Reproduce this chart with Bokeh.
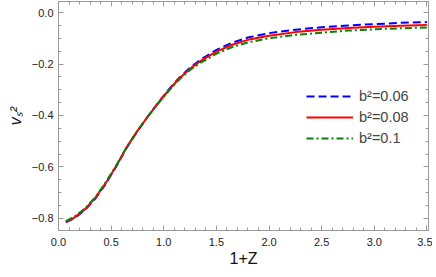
from bokeh.plotting import figure
from bokeh.models import Range1d, FixedTicker, LinearAxis, Legend, LegendItem
from bokeh.embed import file_html
from bokeh.resources import INLINE

# data
x = [0.07, 0.15, 0.25, 0.35, 0.45, 0.55, 0.65, 0.75, 0.85, 0.95, 1.05, 1.15,
     1.25, 1.35, 1.5, 1.65, 1.8, 2.0, 2.25, 2.5, 2.75, 3.0, 3.25, 3.5]
v_b006 = [-0.815, -0.800, -0.768, -0.723, -0.665, -0.597, -0.524, -0.461, -0.403,
          -0.349, -0.298, -0.252, -0.214, -0.183, -0.145, -0.117, -0.097, -0.080,
          -0.067, -0.057, -0.050, -0.045, -0.040, -0.037]
v_b008 = [-0.813, -0.797, -0.765, -0.720, -0.662, -0.595, -0.522, -0.460, -0.403,
          -0.350, -0.300, -0.255, -0.218, -0.188, -0.152, -0.125, -0.106, -0.090,
          -0.076, -0.067, -0.060, -0.055, -0.051, -0.048]
v_b01 = [-0.811, -0.794, -0.762, -0.717, -0.659, -0.593, -0.521, -0.460, -0.404,
         -0.352, -0.303, -0.259, -0.223, -0.195, -0.160, -0.134, -0.116, -0.100,
         -0.087, -0.078, -0.070, -0.065, -0.061, -0.058]
labels = ["b\u00b2=0.06", "b\u00b2=0.08", "b\u00b2=0.1"]
x_major = [0.0, 0.5, 1.0, 1.5, 2.0, 2.5, 3.0, 3.5]
x_tick_labels = ["0.0", "0.5", "1.0", "1.5", "2.0", "2.5", "3.0", "3.5"]
y_major = [-0.8, -0.6, -0.4, -0.2, 0.0]
y_tick_labels = ["\u22120.8", "\u22120.6", "\u22120.4", "\u22120.2", "0.0"]

x_minor = [round(i * 0.1, 2) for i in range(0, 36)]
y_minor = [round(-0.85 + i * 0.05, 2) for i in range(0, 19)]

FONT = "Liberation Sans"
GRAY = "#9a9a9a"

p = figure(width=432, height=276, x_range=Range1d(0, 3.515), y_range=Range1d(-0.847, 0.043),
           output_backend="svg", toolbar_location=None,
           min_border_left=58, min_border_right=4, min_border_top=1, min_border_bottom=46,
           x_axis_location=None, y_axis_location=None)
p.grid.visible = False
p.outline_line_color = GRAY
p.background_fill_color = "white"
p.border_fill_color = "white"

xt = FixedTicker(ticks=x_major, minor_ticks=x_minor)
yt = FixedTicker(ticks=y_major, minor_ticks=y_minor)


def style_axis(ax, show_labels):
    ax.axis_line_color = GRAY
    ax.major_tick_line_color = GRAY
    ax.minor_tick_line_color = GRAY
    ax.major_tick_in = 5
    ax.major_tick_out = 0
    ax.minor_tick_in = 3
    ax.minor_tick_out = 0
    ax.major_label_text_font = FONT
    ax.major_label_text_font_size = "11px"
    ax.major_label_text_color = "#222222"
    ax.axis_label_text_font = FONT
    ax.axis_label_text_font_size = "16px"
    ax.axis_label_text_color = "#111111"
    if not show_labels:
        ax.major_label_text_alpha = 0
        ax.major_label_text_font_size = "1px"


bottom = LinearAxis(ticker=xt, axis_label="1+Z")
style_axis(bottom, True)
bottom.major_label_overrides = {v: s for v, s in zip(x_major, x_tick_labels)}
bottom.major_label_standoff = 7
bottom.axis_label_standoff = 1
bottom.axis_label_text_font_style = "normal"
p.add_layout(bottom, "below")

left = LinearAxis(ticker=yt, axis_label="v\u209b\u00b2")
style_axis(left, True)
left.major_label_overrides = {v: s for v, s in zip(y_major, y_tick_labels)}
left.major_label_standoff = 5
left.axis_label_standoff = 5
left.axis_label_text_font_style = "italic"
p.add_layout(left, "left")

top = LinearAxis(ticker=xt)
style_axis(top, False)
p.add_layout(top, "above")

right = LinearAxis(ticker=yt)
style_axis(right, False)
p.add_layout(right, "right")

r1 = p.line(x, v_b006, line_color="#0000ff", line_width=2, line_dash="8 4")
r2 = p.line(x, v_b008, line_color="#ff0000", line_width=2)
r3 = p.line(x, v_b01, line_color="#0a800a", line_width=2, line_dash="7 3 2 3")

legend = Legend(items=[LegendItem(label=labels[0], renderers=[r1]),
                       LegendItem(label=labels[1], renderers=[r2]),
                       LegendItem(label=labels[2], renderers=[r3])],
                location=(248, 82), padding=0, margin=0, spacing=1,
                glyph_width=47, glyph_height=20, label_standoff=6,
                label_text_font=FONT, label_text_font_size="14.5px",
                border_line_color=None, background_fill_alpha=0)
p.add_layout(legend, "center")

open("out.html", "w").write(file_html(p, INLINE))
